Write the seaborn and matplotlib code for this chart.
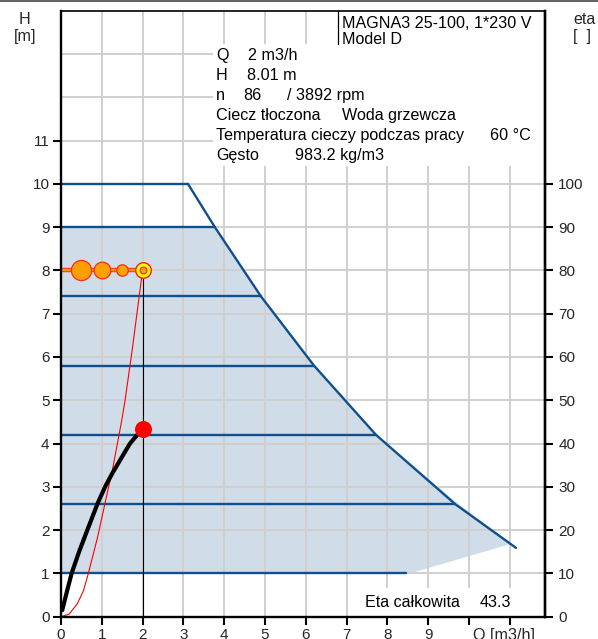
import matplotlib
matplotlib.use("Agg")
import matplotlib.pyplot as plt
import seaborn as sns
import pandas as pd
from matplotlib.lines import Line2D
from matplotlib.patches import Rectangle

# ---------------- data ----------------
q_tick_vals = [0, 1, 2, 3, 4, 5, 6, 7, 8, 9, 10, 11]
q_tick_labels = ["0", "1", "2", "3", "4", "5", "6", "7", "8", "9", "", ""]
h_tick_vals = [0, 1, 2, 3, 4, 5, 6, 7, 8, 9, 10, 11]
eta_tick_vals = [0, 10, 20, 30, 40, 50, 60, 70, 80, 90, 100]

# maximum curve of the pump
q_max = [3.11, 3.77, 4.90, 6.20, 7.72, 9.66, 11.15]
h_max = [10.0, 9.0, 7.4, 5.8, 4.2, 2.6, 1.59]

# constant-pressure control lines
h_levels = [10.0, 9.0, 7.4, 5.8, 4.2, 2.6, 1.0]
q_level_end = [3.11, 3.77, 4.90, 6.20, 7.72, 9.66, 8.45]

# shaded operating area
q_area = [0.0, 0.0, 3.77, 4.90, 6.20, 7.72, 9.72, 11.02, 8.55]
h_area = [1.0, 9.0, 9.0, 7.4, 5.8, 4.2, 2.62, 1.68, 1.0]

# total efficiency curve (right axis)
q_eta = [0.03, 0.15, 0.26, 0.45, 0.645, 0.89, 1.08, 1.25, 1.40, 1.55, 1.69, 1.85, 2.00]
eta_vals = [1.5, 6.0, 10.0, 15.2, 20.0, 26.0, 30.0, 33.0, 35.4, 37.8, 40.0, 41.8, 43.3]

# system curve
q_sys = [0.0, 0.2, 0.4, 0.55, 0.67, 0.9, 1.12, 1.26, 1.49, 1.57, 1.75, 2.0]
h_sys = [0.0, 0.06, 0.3, 0.6, 1.0, 1.85, 2.8, 3.39, 4.54, 5.0, 6.2, 8.01]

# duty point
q_duty = 2.0
h_duty = 8.01
eta_duty = 43.3
q_hist = [0.5, 1.0, 1.5]

# ---------------- styling ----------------
sns.set_theme(style="white")
plt.rcParams["font.family"] = ["Liberation Sans", "DejaVu Sans"]

blue = "#0f4f8c"
grid_c = "#cfcfcf"
shade_c = "#d0dce7"

fig = plt.figure(figsize=(5.98, 6.39), dpi=100)
ax = fig.add_axes([61 / 598, 1 - 616.7 / 639, (545 - 61) / 598, (616.7 - 10.7) / 639])
ax.set_xlim(0, 11.86)
ax.set_ylim(0, 14)

# grid
for x in range(0, 12):
    ax.axvline(x, color=grid_c, lw=1.4, zorder=0.5)
for y in range(0, 14):
    ax.axhline(y, color=grid_c, lw=1.4, zorder=0.5)

# shaded area
ax.fill(q_area, h_area, color=shade_c, lw=0, zorder=0.3)

# white boxes behind texts
ax.add_patch(Rectangle((3.73, 10.41), 11.86 - 3.73, 13.23 - 10.41, facecolor="white",
                       edgecolor="none", zorder=1))
ax.add_patch(Rectangle((6.79, 13.22), 11.86 - 6.79, 0.8, facecolor="white",
                       edgecolor="none", zorder=1))
ax.plot([6.79, 6.79], [13.22, 14], color="black", lw=0.9, zorder=1.5)
ax.add_patch(Rectangle((7.2, 0.0), 11.86 - 7.2, 0.66, facecolor="white",
                       edgecolor="none", zorder=1))

# control lines
for h, qe in zip(h_levels, q_level_end):
    df_l = pd.DataFrame({"Q": [0.0, qe], "H": [h, h]})
    sns.lineplot(data=df_l, x="Q", y="H", ax=ax, color=blue, lw=1.7, zorder=2,
                 estimator=None, sort=False)

# maximum curve
df_max = pd.DataFrame({"Q": q_max, "H": h_max})
sns.lineplot(data=df_max, x="Q", y="H", ax=ax, color=blue, lw=1.7, zorder=2,
             estimator=None, sort=False)

# system curve
df_sys = pd.DataFrame({"Q": q_sys, "H": h_sys})
sns.lineplot(data=df_sys, x="Q", y="H", ax=ax, color="#ff0000", lw=0.8, zorder=3,
             estimator=None, sort=False)

# vertical duty line
ax.plot([q_duty, q_duty], [0, h_duty], color="black", lw=0.8, zorder=3)

# duty head line with history circles
ax.plot([0, q_duty], [h_duty, h_duty], color="#ff3b1f", lw=3.2, zorder=3,
        solid_capstyle="butt")
ax.plot([0, q_duty], [h_duty, h_duty], color="#ff9a00", lw=1.6, zorder=3.1,
        solid_capstyle="butt")
hist_sizes = [210, 145, 68]
for q, s in zip(q_hist, hist_sizes):
    sns.scatterplot(x=[q], y=[h_duty], ax=ax, s=s, color="#ffa000", edgecolor="#ff2a1a",
                    linewidth=0.9, zorder=4, legend=False)
sns.scatterplot(x=[q_duty], y=[h_duty], ax=ax, s=125, color="#ffff00", edgecolor="#ff1a1a",
                linewidth=1.0, zorder=4, legend=False)
sns.scatterplot(x=[q_duty], y=[h_duty], ax=ax, s=24, color="#ffa000", edgecolor="#ff1a1a",
                linewidth=0.8, zorder=5, legend=False)

# axes styling
ax.set_xticks(q_tick_vals)
ax.set_xticklabels(q_tick_labels)
ax.set_yticks(h_tick_vals)
ax.set_yticklabels([str(v) for v in h_tick_vals])
ax.tick_params(axis="both", direction="out", length=5.8, width=1.5, color="black",
               labelsize=11, pad=2.5, left=True, bottom=True)
ax.set_xlabel("")
ax.set_ylabel("")
for side in ["left", "bottom", "top", "right"]:
    ax.spines[side].set_visible(True)
    ax.spines[side].set_color("black")
    ax.spines[side].set_linewidth(1.7)
    ax.spines[side].set_zorder(6)
ax.spines["top"].set_linewidth(1.2)

# right axis: efficiency
ax2 = ax.twinx()
ax2.set_ylim(0, 140)
df_eta = pd.DataFrame({"Q": q_eta, "eta": eta_vals})
sns.lineplot(data=df_eta, x="Q", y="eta", ax=ax2, color="black", lw=3.0, zorder=3,
             estimator=None, sort=False)
sns.scatterplot(x=[q_duty], y=[eta_duty], ax=ax2, s=150, color="#ff0000", edgecolor="#ff0000",
                linewidth=0, zorder=4, legend=False)
ax2.set_yticks(eta_tick_vals)
ax2.set_yticklabels([str(v) for v in eta_tick_vals])
ax2.tick_params(axis="y", direction="out", length=6, width=1.5, color="black",
                labelsize=11, pad=3.5, right=True)
ax2.set_xlabel("")
ax2.set_ylabel("")
for side in ["left", "bottom", "top"]:
    ax2.spines[side].set_visible(False)
ax2.spines["right"].set_color("black")
ax2.spines["right"].set_linewidth(1.7)
ax2.grid(False)

# texts
fs = 11.6
info = [
    (3.80, 12.85, "Q"), (4.58, 12.85, "2 m3/h"),
    (3.80, 12.39, "H"), (4.56, 12.39, "8.01 m"),
    (3.80, 11.93, "n"), (4.46, 11.93, "86"), (5.54, 11.93, "/ 3892 rpm"),
    (3.80, 11.47, "Ciecz tłoczona"), (6.89, 11.47, "Woda grzewcza"),
    (3.80, 11.01, "Temperatura cieczy podczas pracy"), (10.51, 11.01, "60 °C"),
    (3.80, 10.56, "Gęsto"), (5.74, 10.56, "983.2 kg/m3"),
    (6.89, 13.59, "MAGNA3 25-100, 1*230 V"), (6.89, 13.22, "Model D"),
    (7.45, 0.22, "Eta całkowita"), (10.27, 0.22, "43.3"),
]
for x, y, t in info:
    ax.text(x, y, t, fontsize=fs, ha="left", va="baseline", color="black", zorder=7)

ax.annotate("Q [m3/h]", xy=(10.1, 0), xycoords=("data", "axes fraction"),
            xytext=(0, -8), textcoords="offset points", ha="left", va="top",
            fontsize=fs, annotation_clip=False)

fig.text(25 / 598, 1 - 19 / 639, "H", ha="center", va="center", fontsize=fs)
fig.text(25 / 598, 1 - 37 / 639, "[m]", ha="center", va="center", fontsize=fs)
fig.text(573 / 598, 1 - 20 / 639, "eta", ha="left", va="center", fontsize=fs)
fig.text(573 / 598, 1 - 37 / 639, "[  ]", ha="left", va="center", fontsize=fs)

fig.add_artist(Line2D([0, 1], [0.999, 0.999], color="#666666", lw=1.5,
                      transform=fig.transFigure))

fig.savefig("out.png", dpi=100)
